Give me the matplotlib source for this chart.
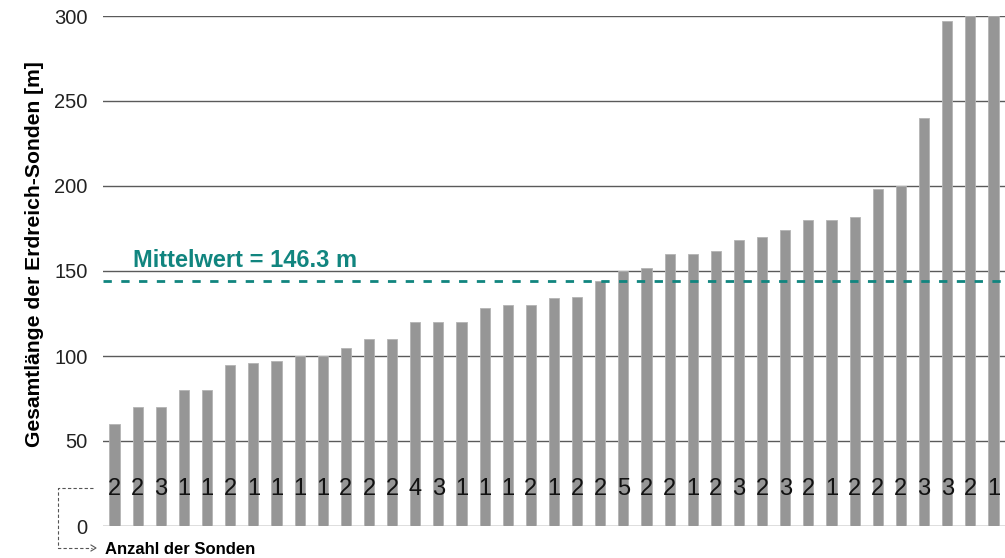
import matplotlib.pyplot as plt
from matplotlib.lines import Line2D

plt.rcParams['font.family'] = ['Liberation Sans', 'DejaVu Sans']

# Data (sorted total probe length per system, and number of probes)
laengen = [60, 70, 70, 80, 80, 95, 96, 97, 100, 100, 105, 110, 110,
           120, 120, 120, 128, 130, 130, 134, 135, 144, 150, 152, 160, 160,
           162, 168, 170, 174, 180, 180, 182, 198, 200, 240, 297, 300, 300]
anzahl = [2, 2, 3, 1, 1, 2, 1, 1, 1, 1,
          2, 2, 2, 4, 3, 1, 1, 1, 2, 1, 2, 2, 5, 2,
          2, 1, 2, 3, 2, 3, 2, 1, 2, 2, 2, 3, 3, 2, 1]
mittelwert_label = 146.3
mittelwert_linie = 144.2   # where the dashed line sits in the picture
y_ticks = [0, 50, 100, 150, 200, 250, 300]

W, H = 1005, 558
fig = plt.figure(figsize=(W / 100, H / 100), dpi=100)
ax = fig.add_axes([103 / W, 1 - 526 / H, (W - 103) / W, (526 - 16) / H])

x = list(range(len(laengen)))
ax.bar(x, laengen, width=0.44, color='#969696', edgecolor='#b4b4b4',
       linewidth=0.6, zorder=2)

ax.axhline(mittelwert_linie, color='#11857f', lw=2, ls=(0, (3, 3.4)), zorder=3)
ax.text(0.8, 152.4, f'Mittelwert = {mittelwert_label} m', color='#11857f',
        fontsize=17, fontweight='bold', ha='left', va='baseline')

for i, n in enumerate(anzahl):
    ax.text(i, 22, str(n), ha='center', va='center', fontsize=17, color='#111111', zorder=4)

ax.set_xlim(-0.5, len(laengen) - 0.5)
ax.set_ylim(0, 300)
ax.set_yticks(y_ticks)
ax.set_xticks([])
ax.yaxis.grid(True, color='#5a5a5a', lw=1)
ax.set_axisbelow(True)
for s in ax.spines.values():
    s.set_visible(False)
ax.tick_params(axis='y', length=0, pad=11, labelsize=14.5, labelcolor='#222222')

fig.text(35 / W, 1 - 254 / H, 'Gesamtlänge der Erdreich-Sonden [m]', rotation=90,
         ha='center', va='center', fontsize=15.2, fontweight='bold')
fig.text(105 / W, 1 - 549 / H, 'Anzahl der Sonden', ha='left', va='center',
         fontsize=12, fontweight='bold')

# dashed bracket pointing from the count row to its caption
px = [93, 58, 58, 92]
py = [488, 488, 548, 548]
fig.add_artist(Line2D([p / W for p in px], [1 - p / H for p in py],
                      transform=fig.transFigure, color='#555555', lw=0.8, ls=(0, (3, 2))))
fig.add_artist(Line2D([91 / W, 96 / W, 91 / W], [1 - 545 / H, 1 - 548 / H, 1 - 551 / H],
                      transform=fig.transFigure, color='#555555', lw=0.8))

fig.savefig('out.png', dpi=100)
